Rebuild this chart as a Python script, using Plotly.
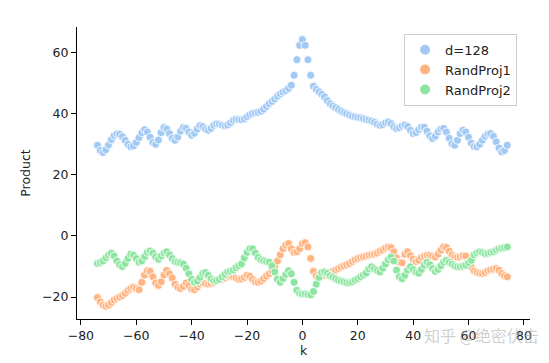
import plotly.graph_objects as go

k_values = list(range(-74, 75))

d128 = [
    29.7, 28.0, 27.3, 28.2, 29.8, 31.5, 32.8, 33.4, 33.3, 32.5,
    31.3, 30.0, 29.2, 29.5, 30.6, 32.2, 33.8, 34.8, 34.0, 32.3,
    30.6, 30.0, 31.4, 33.8, 35.5, 35.0, 33.5, 32.0, 31.3, 32.4,
    34.3, 35.5, 35.2, 34.0, 33.0, 33.6, 35.0, 36.1, 35.8, 35.0,
    34.6, 35.2, 36.2, 36.7, 36.6, 36.3, 36.1, 36.3, 37.0, 37.8,
    38.2, 38.1, 38.0, 38.3, 39.0, 39.7, 40.1, 40.3, 40.5, 40.8,
    41.5, 42.4, 43.3, 44.0, 44.8, 45.7, 46.5, 47.1, 47.6, 48.3,
    49.3, 52.6, 57.7, 62.4, 64.3,
    62.4, 57.7, 52.6, 49.0, 48.0, 47.2, 46.4, 45.5, 44.3, 43.3,
    42.6, 42.0, 41.4, 40.8, 40.4, 40.0, 39.6, 39.2, 39.0, 38.8,
    38.7, 38.4, 38.1, 37.9, 37.6, 37.2, 36.6, 36.2, 36.4, 37.0,
    37.3, 36.8, 35.8, 35.2, 35.4, 36.0, 36.3, 35.8, 34.6, 33.5,
    33.8, 34.8, 35.6, 35.6, 34.3, 32.8, 31.9, 32.6, 34.0, 35.0,
    35.2, 34.0, 32.0, 30.2, 29.7, 31.3, 33.5, 34.6, 34.0, 32.3,
    30.4, 29.3, 29.2, 30.0, 31.3, 32.6, 33.4, 33.5, 32.6, 30.8,
    28.8, 27.5, 28.0, 29.7,
]

rand_proj1 = [
    -20.2, -21.6, -22.6, -23.0, -22.6, -21.8, -21.0, -20.4, -20.0, -19.5,
    -18.8, -17.9, -17.2, -16.8, -17.2, -17.6, -15.2, -12.8, -11.4, -11.6,
    -13.4, -15.4, -16.2, -15.0, -12.8, -11.3, -12.4, -13.8, -15.8, -16.8,
    -17.2, -16.6, -15.4, -16.2, -17.4, -17.6, -16.8, -15.8, -15.4, -15.6,
    -15.8, -15.6, -15.2, -14.6, -14.3, -14.2, -13.8, -13.2, -13.2, -13.4,
    -13.8, -14.2, -14.1, -13.6, -12.9, -13.2, -14.2, -15.0, -15.2, -14.8,
    -14.0, -13.2, -12.4, -11.5, -10.0, -8.2, -6.2, -4.2, -3.0, -2.5,
    -4.2, -5.4, -5.2, -4.2, -2.6,
    -2.2, -3.6, -7.4, -11.6, -13.0, -13.4, -13.2, -12.8, -12.4, -12.0,
    -11.6, -11.2, -10.7, -10.2, -9.8, -9.4, -9.0, -8.4, -7.8, -7.4,
    -7.1, -6.9, -6.6, -6.3, -6.1, -5.9, -5.6, -5.0, -4.6, -4.0,
    -3.6, -3.8, -5.2, -7.2, -8.6, -8.8, -6.0, -5.2, -6.4, -7.6,
    -8.4, -8.0, -7.0, -6.6, -6.3, -6.3, -6.6, -6.9, -6.0, -4.7,
    -3.6, -3.8, -5.0, -6.2, -6.9, -7.0, -6.9, -6.5, -6.6, -8.6,
    -10.2, -11.4, -11.9, -12.2, -12.3, -12.0, -11.4, -11.1, -10.9, -10.7,
    -11.2, -12.3, -13.0, -13.4,
]

rand_proj2 = [
    -9.0, -8.7, -8.2, -7.2, -6.2, -5.7, -6.6, -8.2, -9.4, -10.0,
    -9.0, -7.4, -6.0, -6.3, -7.4, -8.6, -8.2, -6.8, -5.4, -4.9,
    -5.6, -6.8, -7.6, -6.6, -5.6, -5.2, -6.2, -7.4, -8.4, -8.7,
    -8.8, -9.2, -10.6, -12.4, -14.2, -15.2, -14.8, -13.6, -12.3, -12.0,
    -12.9, -14.0, -14.6, -14.6, -14.2, -13.4, -12.6, -11.8, -11.6, -11.2,
    -10.4, -9.8, -9.2, -7.2, -5.4, -4.2, -4.2, -5.6, -7.0, -7.8,
    -8.1, -8.4, -8.6, -9.8, -11.8, -14.2, -15.2, -14.0, -12.6, -11.4,
    -12.4, -15.2, -17.8, -18.8, -19.0,
    -19.0, -19.2, -19.3, -18.2, -15.8, -13.6, -12.0, -11.8, -12.3, -13.0,
    -13.5, -14.0, -14.5, -14.8, -15.0, -15.3, -15.3, -15.0, -14.5, -14.0,
    -13.4, -12.8, -12.2, -10.8, -10.1, -10.8, -11.3, -11.8, -10.6, -9.2,
    -7.8, -6.9, -8.2, -11.2, -13.4, -14.0, -12.9, -11.2, -10.1, -11.0,
    -11.9, -12.2, -11.0, -9.6, -8.6, -9.4, -10.7, -11.6, -11.0, -9.8,
    -8.6, -8.0, -8.6, -9.2, -9.8, -10.1, -10.1, -9.9, -9.6, -8.8,
    -8.0, -6.2, -5.6, -5.2, -5.4, -5.8, -5.7, -5.4, -5.2, -4.7,
    -4.2, -4.0, -3.8, -3.6,
]

series_names = ["d=128", "RandProj1", "RandProj2"]
series_colors = ["#a1c9f4", "#ffb482", "#8de5a1"]
x_ticks = [-80, -60, -40, -20, 0, 20, 40, 60, 80]
y_ticks = [-20, 0, 20, 40, 60]

FONT = "DejaVu Sans"
TXT = "#222222"

fig = go.Figure()
for name, vals, col in zip(series_names, [d128, rand_proj1, rand_proj2], series_colors):
    fig.add_trace(go.Scatter(
        x=k_values, y=vals, mode="markers", name=name,
        marker=dict(color=col, size=8, line=dict(color="white", width=0.8)),
    ))

axis_common = dict(
    showgrid=False, zeroline=False, showline=True, linecolor="black", linewidth=1,
    ticks="outside", ticklen=5, tickwidth=1, tickcolor="black",
    tickfont=dict(family=FONT, size=12.5, color=TXT),
    title_font=dict(family=FONT, size=12.5, color=TXT),
    mirror=False, automargin=False,
)

fig.update_xaxes(range=[-81.4, 82.2], tickvals=x_ticks,
                 ticktext=[str(v).replace("-", "\u2212") for v in x_ticks],
                 title_text="k", title_standoff=4, **axis_common)
fig.update_yaxes(range=[-27.2, 68.4], tickvals=y_ticks,
                 ticktext=[str(v).replace("-", "\u2212") for v in y_ticks],
                 title_text="Product", title_standoff=8, **axis_common)

fig.add_annotation(
    text="知乎 @绝密伏击", xref="paper", yref="paper", x=1.025, y=-0.055,
    xanchor="right", yanchor="middle", showarrow=False,
    font=dict(family="Noto Sans CJK SC", size=16, color="rgba(160,160,160,0.5)"),
)

fig.update_layout(
    width=549, height=363,
    margin=dict(l=77, r=19, t=27, b=44),
    paper_bgcolor="white", plot_bgcolor="white",
    font=dict(family=FONT, size=12.5, color=TXT),
    showlegend=True,
    legend=dict(
        x=0.722, y=0.977, xanchor="left", yanchor="top",
        bgcolor="rgba(255,255,255,0.8)", bordercolor="#cccccc", borderwidth=1,
        font=dict(family=FONT, size=13, color=TXT),
        itemsizing="constant",
    ),
)

fig.write_html(
    "out.html",
    config={"displayModeBar": False},
    post_script="document.body.style.margin='0';document.body.style.padding='0';",
)
